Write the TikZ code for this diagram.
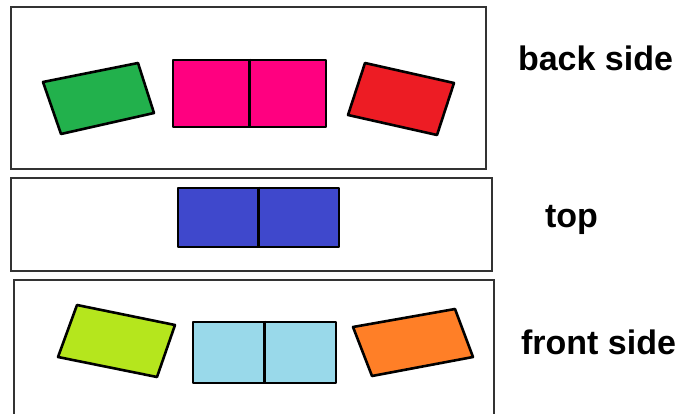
\documentclass[tikz,border=0pt]{standalone}
\usepackage{fontspec}
\setmainfont{Liberation Sans}
\usepackage{xcolor}
\usetikzlibrary{positioning}

\definecolor{pgreen}{HTML}{22B14C}
\definecolor{pred}{HTML}{ED1C24}
\definecolor{ppink}{HTML}{FF0080}
\definecolor{pblue}{HTML}{3F48CC}
\definecolor{plime}{HTML}{B5E61D}
\definecolor{psky}{HTML}{99D9EA}
\definecolor{porange}{HTML}{FF7F27}

\begin{document}
\begin{tikzpicture}[
      x=1pt, y=-1pt,
      panel/.style={draw=black!80, line width=1.4pt, inner sep=0pt},
      tile/.style={draw=black, line width=2.6pt, inner sep=0pt, line join=round},
      lbl/.style={font=\fontsize{34}{40}\selectfont\bfseries, anchor=base, inner sep=0pt}
    ]
    \clip (0,0) rectangle (683,414);

    % Back side panel
    \node[panel, minimum width=475pt, minimum height=162pt] (back) at (248.5,88) {};
    \draw[tile, fill=pgreen] (43,82) -- (138,63) -- (154,113) -- (61,134) -- cycle;
    \node[tile, fill=ppink, minimum width=153pt, minimum height=67pt] (pink) at (249.5,93.5) {};
    \draw[tile, fill=pred] (365,63) -- (454,83) -- (437,135) -- (348,115) -- cycle;
    \draw[tile] (pink.north) -- (pink.south);
    \node[lbl] (backlbl) at (595.5,71) {back side};

    % Top panel
    \node[panel, minimum width=481pt, minimum height=93pt] (top) at (251.5,224.5) {};
    \node[tile, fill=pblue, minimum width=161pt, minimum height=59pt] (blue) at (258.5,217.5) {};
    \draw[tile] (blue.north) -- (blue.south);
    \node[lbl] (toplbl) at (571.5,228) {top};

    % Front side panel (runs off the bottom)
    \coordinate (fsw) at (14,420);
    \coordinate (fnw) at (14,280);
    \coordinate (fne) at (494,280);
    \coordinate (fse) at (494,420);
    \draw[panel] (fsw) -- (fnw) -- (fne) -- (fse);
    \draw[tile, fill=plime] (77,305) -- (175,325) -- (157,377) -- (58,357) -- cycle;
    \node[tile, fill=psky, minimum width=143pt, minimum height=61pt] (sky) at (264.5,352.5) {};
    \draw[tile, fill=porange] (353,327) -- (455,309) -- (473,357) -- (372,376) -- cycle;
    \draw[tile] (sky.north) -- (sky.south);
    \node[lbl] (frontlbl) at (598.5,354) {front side};
  \end{tikzpicture}
\end{document}
